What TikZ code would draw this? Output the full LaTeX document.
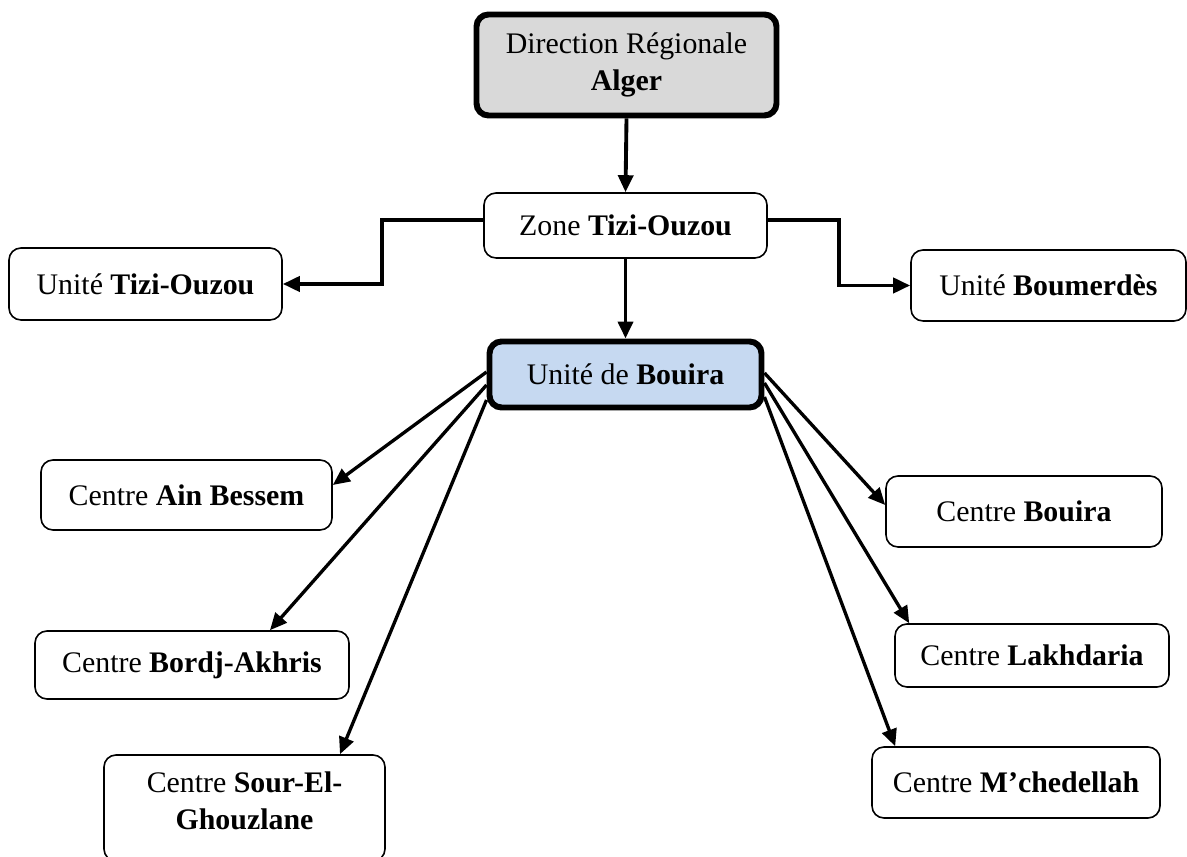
\documentclass[tikz,border=0pt]{standalone}
\usepackage{fontspec}
\setmainfont{Liberation Serif}
\usetikzlibrary{arrows.meta}
\definecolor{drgray}{HTML}{D9D9D9}
\definecolor{ubblue}{HTML}{C6D9F1}
\tikzset{%
    box/.style={draw, rounded corners=0.24cm, line width=0.9pt, fill=white, align=center, inner sep=2pt,
        font=\fontsize{17}{21}\selectfont},
    boxt/.style={box, line width=3.4pt},
    wh/.style 2 args={minimum width=#1*0.02cm, minimum height=#2*0.02cm},
    pra/.style={line width=2.2pt, -{Triangle[length=0.34cm,width=0.3cm]}},
    sra/.style={line width=1.9pt, -{Triangle[length=0.34cm,width=0.3cm]}},
}
\begin{document}
\begin{tikzpicture}[x=0.02cm,y=-0.02cm]
    \useasboundingbox (0,0) rectangle (1187,857);
    \node [boxt,fill=drgray,wh={300}{101}] (dr) at (626.5,65) {Direction Régionale\\\textbf{Alger}};
    \node [box,wh={283}{65}] (zt) at (625.5,225.5) {Zone \textbf{Tizi-Ouzou}};
    \node [box,wh={273}{72}] (ut) at (145.5,284) {Unité \textbf{Tizi-Ouzou}};
    \node [box,wh={275}{71}] (um) at (1048.5,285.5) {Unité \textbf{Boumerdès}};
    \node [boxt,fill=ubblue,wh={272}{66}] (ub) at (625.5,374.5) {Unité de \textbf{Bouira}};
    \node [box,wh={291}{70}] (ab) at (186.5,495) {Centre \textbf{Ain Bessem}};
    \node [box,wh={314}{68}] (bk) at (192,665) {Centre \textbf{Bordj-Akhris}};
    \node [box,wh={281}{106},text depth=0.28cm] (sg) at (244.5,808) {Centre \textbf{Sour-El-}\\\textbf{Ghouzlane}};
    \node [box,wh={276}{71}] (cb) at (1024,511.5) {Centre \textbf{Bouira}};
    \node [box,wh={274}{63}] (cl) at (1032,655.5) {Centre \textbf{Lakhdaria}};
    \node [box,wh={288}{71}] (cm) at (1016,782.5) {Centre \textbf{M’chedellah}};
    \draw [pra] (dr.south) -- (zt.north);
    \draw [pra] ([yshift=0.11cm]zt.west) -- ++(-101,0) |- (ut.east);
    \draw [pra] ([yshift=0.11cm]zt.east) -- ++(71,0) |- (um.west);
    \draw [pra] (zt.south) -- (ub.north);
    \draw [sra] ([yshift=0.05cm]ub.west) -- ([yshift=0.2cm]ab.east);
    \draw [sra] ([yshift=-0.21cm]ub.west) -- ([xshift=1.56cm]bk.north);
    \draw [sra] ([yshift=-0.51cm]ub.west) -- ([xshift=1.91cm]sg.north);
    \draw [sra] ([yshift=0.03cm]ub.east) -- ([yshift=0.13cm]cb.west);
    \draw [sra] ([yshift=-0.17cm]ub.east) -- ([xshift=0.3cm]cl.north west);
    \draw [sra] ([yshift=-0.45cm]ub.east) -- ([xshift=0.48cm]cm.north west);
\end{tikzpicture}
\end{document}
